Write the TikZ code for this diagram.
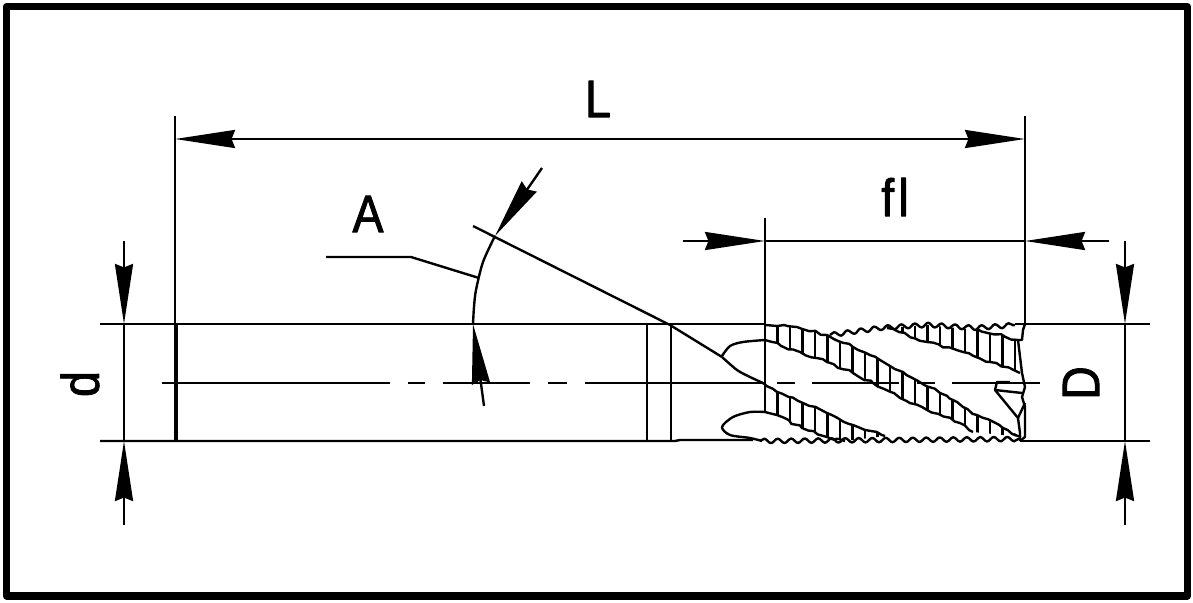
\documentclass[tikz,border=0pt]{standalone}
\usepackage{fontspec}
\newfontfamily\dimfont[FakeBold=1.6, FakeStretch=0.88]{Liberation Sans}
\usepackage{tikz}
\usetikzlibrary{arrows.meta}
\usetikzlibrary{decorations.pathmorphing}
\tikzset{
    part/.style={line width=0.68pt, line join=round},
    dimhead/.style={-{Stealth[length=0.6cm, width=0.18cm, inset=0.035cm]}},
    serration/.style={decorate, decoration={snake, segment length=0.135cm, amplitude=0.022cm}},
    rough/.style={decorate, decoration={random steps, segment length=0.06cm, amplitude=0.014cm}},
    dimtext/.style={font=\dimfont\fontsize{15}{15}\selectfont, inner sep=0pt},
}
\begin{document}
\begin{tikzpicture}[x=0.01cm, y=-0.01cm, part]
    \useasboundingbox (0,0) rectangle (1193,603);
    \draw[line width=2pt] (6.5,6.5) rectangle (1187.5,596);

    \coordinate (shankTop) at (176,324);
    \coordinate (shankBot) at (176,441);
    \coordinate (tipTop) at (1025,324);
    \coordinate (tipBot) at (1025,441);

    \draw (100,324) -- (765,324);
    \draw (1015,324) -- (tipTop) -- (1150,324);
    \draw (100,441) -- (675,441) -- (680,440) -- (753,440);
    \draw (1020,441) -- (1150,441);
    \draw[line width=1.2pt] (shankTop) -- (shankBot);
    \draw (647,324) -- (647,441);
    \draw (671,324) -- (671,441);
    \foreach \xa/\xb in {162/390, 408/425, 443/530, 548/567, 585/765, 777/795, 812/899, 917/935, 952/1040}
        \draw (\xa,383) -- (\xb,383);

    \draw (175,116) -- (175,324);
    \draw (tipTop |- 0,116) -- (tipTop);
    \draw (765,218) -- (765,412);

    \draw[dimhead] (598,139) -- (175,139);
    \draw[dimhead] (598,139) -- (1025,139);
    \draw[dimhead] (683,241) -- (765,241);
    \draw (765,241) -- (1025,241);
    \draw[dimhead] (1109,241) -- (1025,241);
    \foreach \x in {124, 1125} {
        \draw[dimhead] (\x,241) -- (\x,324);
        \draw (\x,324) -- (\x,441);
        \draw[dimhead] (\x,525) -- (\x,441);
    }

    \node[dimtext] (lenL) at (598,99) {L};
    \node[dimtext] (lenFl) at (895,197) {f\kern1.2pt l};
    \node[dimtext] (angA) at (368,214) {A};
    \node[dimtext, rotate=90] (diaD) at (80,384) {d};
    \node[dimtext, rotate=90] (diaBig) at (1081,383) {D};

    \draw (326,257) -- (411,257) -- (479,278);
    \draw plot[smooth] coordinates {(473,324) (474,307) (476,290) (483,262) (495,236)};
    \draw[dimhead] (542,168) -- (495,236);
    \draw[dimhead] (484,406) -- (473,324);
    \draw (473,226) -- (670,325) -- (722,357);
    \draw plot[smooth] coordinates {(722,357) (737,370) (750,377) (763,383)};
    \draw plot[smooth] coordinates {(722,356) (730,346) (743,342) (765,340)};
    \draw plot[smooth] coordinates {(765,412) (750,412) (733,417) (722,427) (730,435) (750,438) (762,441)};

    \begin{scope}
        \clip (765,325) -- (797,327) -- (827,335) -- (853,347) -- (880,360) -- (903,372) -- (940,393) -- (963,407) -- (977,415) -- (1003,428) -- (1023,437)
            -- (973,432) -- (960,423) -- (927,410) -- (900,398) -- (873,383) -- (853,373) -- (827,362) -- (800,352) -- (765,340) -- cycle;
        \foreach \i in {0,...,19}
            \draw ({777.5+12.5*\i},320) -- ({777.5+12.5*\i},445);
    \end{scope}
    \begin{scope}
        \clip (887,328) -- (927,325) -- (977,330) -- (1020,340) -- (1020,373) -- (990,362) -- (963,352) -- (927,342) -- cycle;
        \foreach \i in {9,...,19}
            \draw ({777.5+12.5*\i},320) -- ({777.5+12.5*\i},445);
    \end{scope}
    \begin{scope}
        \clip (763,383) -- (777,392) -- (803,403) -- (827,413) -- (853,425) -- (885,436) -- (845,441) -- (827,437) -- (802,428) -- (777,415) -- (765,412) -- cycle;
        \foreach \i in {0,...,8}
            \draw ({777.5+12.5*\i},380) -- ({777.5+12.5*\i},445);
    \end{scope}

    \draw[rough] (765,325) -- (797,327) -- (827,335) -- (853,347) -- (880,360) -- (903,372) -- (940,393) -- (963,407) -- (977,415) -- (1003,428) -- (1021,437);
    \draw[rough] (765,340) -- (800,352) -- (827,362) -- (853,373) -- (873,383) -- (900,398) -- (927,410) -- (960,423) -- (973,432);
    \draw[rough] (763,383) -- (777,392) -- (803,403) -- (827,413) -- (853,425) -- (885,436);
    \draw[rough] (765,412) -- (777,415) -- (802,428) -- (827,437) -- (845,441);
    \draw[rough] (887,328) -- (927,342) -- (963,352) -- (990,362) -- (1020,373);
    \draw[rough] (977,329) -- (1018,340);
    \draw[serration] (830,335) -- (880,328) -- (927,325) -- (973,328) -- (1015,325);
    \draw[serration] (760,441) -- (1020,439);

    \draw (tipTop) -- (1023,330) -- (1022,340) -- (1018,340) -- (1022,373) -- (1025,387) -- (1022,397) -- (1025,407) -- (1025,437) -- (1020,441);
    \draw (1010,382) -- (997,382) -- (995,390) -- (1018,418) -- (1020,433) -- (1020,441);
    \draw (995,390) -- (1022,393);
    \draw (1018,418) -- (1025,403);
\end{tikzpicture}
\end{document}
